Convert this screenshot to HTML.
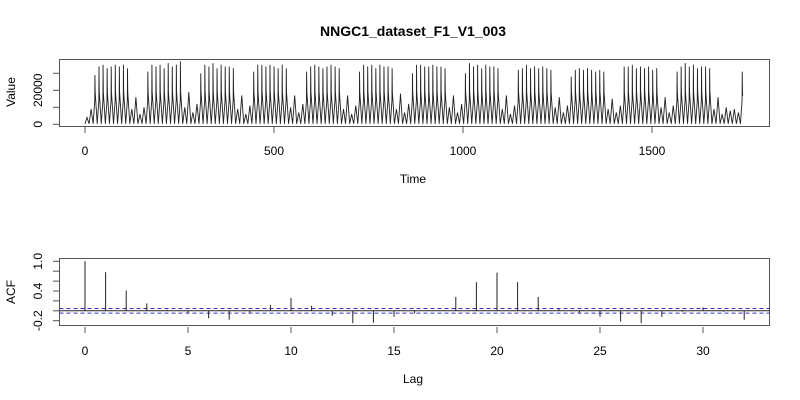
<!DOCTYPE html>
<html><head><meta charset="utf-8"><style>
body{margin:0;background:#fff}
svg{display:block;font-family:"Liberation Sans",sans-serif}
</style></head><body>
<svg id="c" width="800" height="400" xmlns="http://www.w3.org/2000/svg">
<rect width="800" height="400" fill="#fff"/>
<text x="413" y="36" text-anchor="middle" font-size="14" font-weight="bold">NNGC1_dataset_F1_V1_003</text>
<g id="topg"></g><g id="botg"></g>
</svg>
<script>
// Time series: per-cycle peak values (thousands); cycles of ~10.77 time units
var cyclePeaks = [4,9,
29,34,35,33,34,35,34,35,33, 9,16,6,10,
31,35,34,35,33,36,34,35,37, 10,19,7,12,
30,35,34,36,33,35,34,34,33, 9,17,6,11,
31,35,35,34,35,34,33,35,33, 10,17,7,12,
31,34,35,34,33,34,35,34,33, 9,17,6,11,
31,35,34,35,33,35,34,34,33, 9,18,7,12,
30,35,35,34,34,35,34,34,33, 10,17,7,12,
30,36,34,35,33,35,34,34,33, 9,17,6,11,
32,33,35,33,34,33,34,33,32, 10,16,7,11,
28,32,33,32,33,32,31,32,31, 9,15,7,11,
34,34,35,33,34,33,34,32,33, 10,16,7,11,
31,34,36,34,35,33,34,34,33, 9,16,6,10,
8,9,7,31];
var cycleLen = 10.77;
var seriesLength = 1740;
var xTicks = [0,500,1000,1500];
var yTicks = [0,10000,20000,30000];
var yLabels = {0:"0",20000:"20000"};
// ACF
var lags = [0,1,2,3,4,5,6,7,8,9,10,11,12,13,14,15,16,17,18,19,20,21,22,23,24,25,26,27,28,29,30,31,32];
var acfVals = [1.0,0.78,0.41,0.15,0.02,-0.05,-0.15,-0.18,-0.04,0.12,0.26,0.1,-0.1,-0.25,-0.24,-0.12,-0.05,0.0,0.28,0.58,0.77,0.58,0.28,0.04,-0.04,-0.12,-0.22,-0.25,-0.12,-0.02,0.07,-0.02,-0.18];
var confBand = 0.047;
var lagTicks = [0,5,10,15,20,25,30];
var acfTicks = [-0.2,0,0.2,0.4,0.6,0.8,1.0];
var acfLabels = {"-0.2":"-0.2","0.4":"0.4","1":"1.0"};

var NS="http://www.w3.org/2000/svg";
function mk(p,t,a){var e=document.createElementNS(NS,t);for(var k in a)e.setAttribute(k,a[k]);p.appendChild(e);return e;}
var gTop=document.getElementById('topg'), gBot=document.getElementById('botg');
function X1(t){return 85+t*0.378;} function Y1(v){return 124.3-v*0.0017;}
function X2(l){return 85+l*20.6;} function Y2(a){return 310.8-a*49.5;}

var b1=mk(gTop,'rect',{x:59.5,y:59.5,width:710,height:67,fill:'none',stroke:'#555'});


var pts=[], t=0;
for(var i=0;i<cyclePeaks.length;i++){
  var p=cyclePeaks[i]*1000;
  pts.push([t,300]);
  if(p>20000){pts.push([t+4.3,14000]);pts.push([t+4.7,p]);pts.push([t+5.4,19000]);}
  else pts.push([t+5.4,p]);
  t+=cycleLen;
}
pts.push([t,300]);
// clip at series end
var clipped=[];
for(var j=0;j<pts.length;j++){
  if(pts[j][0]<=seriesLength) clipped.push(pts[j]);
  else { var a=pts[j-1], b=pts[j], f=(seriesLength-a[0])/(b[0]-a[0]); clipped.push([seriesLength,a[1]+f*(b[1]-a[1])]); break; }
}
var d=clipped.map(function(q,j){return (j?'L':'M')+X1(q[0]).toFixed(2)+' '+Y1(q[1]).toFixed(2);}).join('');
var ln=mk(gTop,'path',{d:d,fill:'none',stroke:'#222','stroke-width':0.9});


xTicks.forEach(function(v){
  var x=X1(v);
  var tk=mk(gTop,'line',{x1:x,x2:x,y1:127,y2:133,stroke:'#555'});
  
  
  var tx=mk(gTop,'text',{x:x,y:155,'text-anchor':'middle','font-size':12});tx.textContent=v;
  
  
});
yTicks.forEach(function(v){
  var y=Y1(v);
  var tk=mk(gTop,'line',{x1:53,x2:59,y1:y,y2:y,stroke:'#555'});
  
  
  if(yLabels[v]!==undefined){
    var tx=mk(gTop,'text',{x:0,y:0,'text-anchor':'middle','font-size':12,transform:'translate(42,'+y+') rotate(-90)'});tx.textContent=yLabels[v];
    
    
  }
});
var xt=mk(gTop,'text',{x:413,y:183,'text-anchor':'middle','font-size':12});xt.textContent='Time';


var yt=mk(gTop,'text',{x:0,y:0,'text-anchor':'middle','font-size':12,transform:'translate(15,92) rotate(-90)'});yt.textContent='Value';



var b2=mk(gBot,'rect',{x:59.5,y:258.5,width:710,height:67,fill:'none',stroke:'#555'});


var z=mk(gBot,'line',{x1:59.5,x2:769.5,y1:Y2(0),y2:Y2(0),stroke:'#222'});


[confBand,-confBand].forEach(function(c){
  var cl=mk(gBot,'line',{x1:59.5,x2:769.5,y1:Y2(c),y2:Y2(c),stroke:'#3333cc','stroke-dasharray':'4,3'});
  
  
});
lags.forEach(function(l,i){
  var bar=mk(gBot,'line',{x1:X2(l),x2:X2(l),y1:Y2(0),y2:Y2(acfVals[i]),stroke:'#222'});
  
  
});
lagTicks.forEach(function(v){
  var x=X2(v);
  var tk=mk(gBot,'line',{x1:x,x2:x,y1:327,y2:333,stroke:'#555'});
  
  
  var tx=mk(gBot,'text',{x:x,y:355,'text-anchor':'middle','font-size':12});tx.textContent=v;
  
  
});
acfTicks.forEach(function(v){
  var y=Y2(v);
  var tk=mk(gBot,'line',{x1:53,x2:59,y1:y,y2:y,stroke:'#555'});
  
  
  var key=String(Math.round(v*10)/10);
  if(acfLabels[key]!==undefined){
    var tx=mk(gBot,'text',{x:0,y:0,'text-anchor':'middle','font-size':12,transform:'translate(42,'+y+') rotate(-90)'});tx.textContent=acfLabels[key];
    
    
  }
});
var lt=mk(gBot,'text',{x:413,y:383,'text-anchor':'middle','font-size':12});lt.textContent='Lag';


var at=mk(gBot,'text',{x:0,y:0,'text-anchor':'middle','font-size':12,transform:'translate(15,292) rotate(-90)'});at.textContent='ACF';


</script>
</body></html>
